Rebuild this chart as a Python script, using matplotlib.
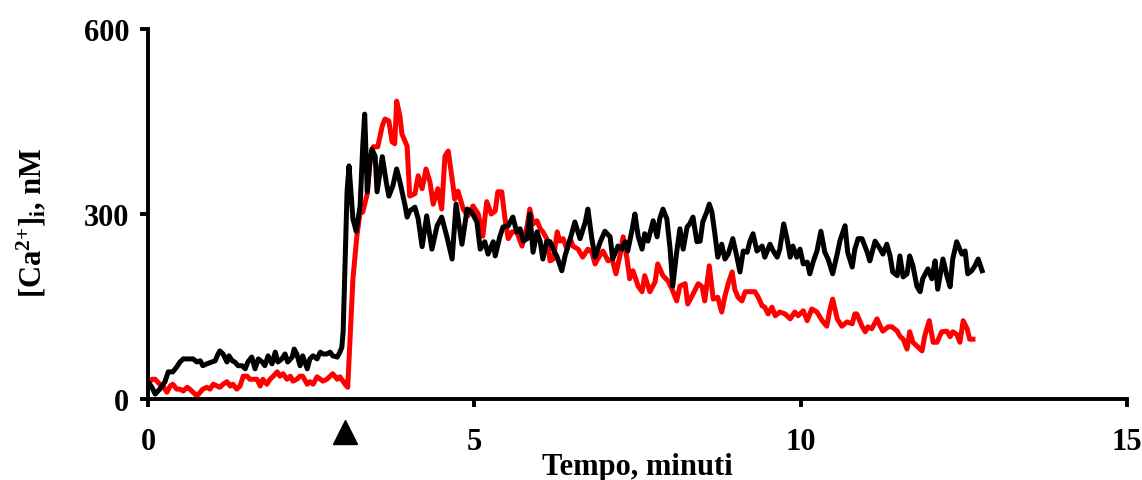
import matplotlib
matplotlib.use("Agg")
import matplotlib.pyplot as plt

# ---- data (time in minutes, [Ca2+]i in nM) ----
t_black = [0.00, 0.06, 0.11, 0.18, 0.26, 0.31, 0.38, 0.44, 0.49, 0.54, 0.61, 0.69, 0.75, 0.80, 0.84,
           0.90, 0.98, 1.03, 1.06, 1.10, 1.15, 1.21, 1.24, 1.29, 1.33, 1.38, 1.44, 1.49, 1.53, 1.59,
           1.64, 1.69, 1.75, 1.79, 1.84, 1.90, 1.95, 1.99, 2.05, 2.10, 2.14, 2.21, 2.24, 2.28, 2.33,
           2.37, 2.44, 2.48, 2.53, 2.59, 2.64, 2.68, 2.74, 2.79, 2.83, 2.90, 2.94, 2.97, 2.99, 3.05,
           3.08, 3.14, 3.19, 3.25, 3.29, 3.32, 3.36, 3.40, 3.43, 3.48, 3.51, 3.59, 3.65, 3.69, 3.75,
           3.81, 3.86, 3.94, 3.97, 4.01, 4.09, 4.14, 4.20, 4.27, 4.35, 4.43, 4.50, 4.58, 4.66, 4.72,
           4.81, 4.89, 4.96, 5.04, 5.09, 5.16, 5.21, 5.29, 5.32, 5.39, 5.44, 5.52, 5.59, 5.65, 5.70,
           5.75, 5.81, 5.85, 5.90, 5.96, 6.01, 6.05, 6.11, 6.16, 6.21, 6.27, 6.34, 6.39, 6.47, 6.54,
           6.62, 6.70, 6.74, 6.80, 6.85, 6.93, 7.00, 7.08, 7.12, 7.20, 7.26, 7.31, 7.35, 7.42, 7.46,
           7.51, 7.57, 7.61, 7.66, 7.74, 7.80, 7.84, 7.89, 7.95, 8.00, 8.04, 8.10, 8.15, 8.20, 8.26,
           8.30, 8.35, 8.41, 8.46, 8.50, 8.56, 8.60, 8.64, 8.69, 8.73, 8.79, 8.84, 8.89, 8.96, 9.02,
           9.07, 9.12, 9.18, 9.22, 9.27, 9.33, 9.41, 9.45, 9.53, 9.58, 9.64, 9.68, 9.74, 9.79, 9.84,
           9.88, 9.94, 9.99, 10.04, 10.10, 10.14, 10.19, 10.25, 10.31, 10.37, 10.42, 10.49, 10.56,
           10.60, 10.68, 10.72, 10.79, 10.83, 10.88, 10.94, 11.02, 11.06, 11.14, 11.22, 11.26, 11.32,
           11.37, 11.41, 11.48, 11.52, 11.57, 11.63, 11.67, 11.72, 11.78, 11.83, 11.87, 11.95, 12.01,
           12.06, 12.10, 12.18, 12.24, 12.29, 12.33, 12.39, 12.47, 12.52, 12.56, 12.62, 12.67, 12.72,
           12.78]
ca_black = [28, 19, 8, 16, 28, 44, 44, 52, 60, 65, 65, 65, 60, 62, 54,
            57, 60, 62, 70, 78, 73, 60, 70, 62, 60, 54, 54, 49, 60, 68,
            49, 65, 60, 54, 70, 57, 76, 60, 65, 73, 60, 68, 81, 73, 54,
            70, 49, 65, 70, 65, 76, 73, 73, 76, 70, 68, 76, 84, 109, 336,
            378, 292, 272, 313, 410, 462, 336, 384, 405, 394, 336, 393, 352, 329, 345,
            373, 352, 313, 295, 305, 311, 292, 247, 297, 243, 281, 295, 263, 227, 316,
            251, 308, 303, 287, 243, 255, 235, 255, 232, 263, 279, 281, 295, 271, 276,
            256, 260, 300, 238, 271, 255, 227, 256, 255, 243, 230, 208, 232, 260, 287,
            260, 287, 308, 260, 230, 255, 272, 263, 227, 248, 243, 255, 240, 276, 300,
            264, 243, 268, 256, 289, 263, 292, 308, 292, 243, 183, 238, 276, 243, 279,
            284, 295, 255, 256, 287, 303, 316, 303, 264, 230, 251, 227, 235, 260, 232,
            206, 240, 238, 255, 268, 240, 248, 230, 251, 240, 230, 243, 284, 260, 230,
            248, 230, 243, 219, 222, 203, 222, 240, 272, 238, 227, 203, 235,
            256, 281, 238, 214, 243, 260, 260, 238, 224, 256, 243, 235, 251,
            232, 206, 200, 232, 198, 203, 232, 216, 183, 174, 195, 211, 195,
            224, 178, 227, 200, 182, 227, 255, 235, 240, 203, 208, 216, 227,
            208]

t_red = [0.00, 0.06, 0.11, 0.18, 0.23, 0.29, 0.34, 0.38, 0.44, 0.49, 0.54, 0.60, 0.64, 0.69, 0.75,
         0.80, 0.84, 0.90, 0.95, 1.00, 1.06, 1.10, 1.15, 1.21, 1.26, 1.30, 1.36, 1.41, 1.46, 1.52,
         1.56, 1.61, 1.67, 1.72, 1.76, 1.82, 1.87, 1.92, 1.98, 2.02, 2.07, 2.13, 2.18, 2.22, 2.28,
         2.33, 2.37, 2.44, 2.48, 2.53, 2.59, 2.64, 2.68, 2.74, 2.79, 2.83, 2.90, 2.94, 3.02, 3.06,
         3.09, 3.14, 3.20, 3.25, 3.29, 3.36, 3.40, 3.45, 3.52, 3.59, 3.63, 3.69, 3.74, 3.78, 3.81,
         3.86, 3.89, 3.97, 4.01, 4.09, 4.14, 4.20, 4.26, 4.32, 4.37, 4.44, 4.50, 4.55, 4.60, 4.66,
         4.70, 4.75, 4.83, 4.90, 4.98, 5.06, 5.13, 5.19, 5.26, 5.32, 5.36, 5.42, 5.47, 5.52, 5.58,
         5.65, 5.73, 5.81, 5.85, 5.90, 5.96, 6.01, 6.05, 6.11, 6.16, 6.21, 6.27, 6.31, 6.36, 6.42,
         6.47, 6.51, 6.59, 6.66, 6.74, 6.80, 6.85, 6.89, 6.97, 7.05, 7.11, 7.17, 7.23, 7.28, 7.34,
         7.38, 7.43, 7.51, 7.57, 7.61, 7.69, 7.77, 7.81, 7.89, 7.97, 8.03, 8.10, 8.15, 8.23, 8.27,
         8.35, 8.43, 8.49, 8.53, 8.60, 8.66, 8.73, 8.79, 8.84, 8.89, 8.95, 8.99, 9.04, 9.10, 9.15,
         9.22, 9.30, 9.35, 9.41, 9.45, 9.50, 9.56, 9.61, 9.68, 9.76, 9.84, 9.91, 9.96, 10.04, 10.10,
         10.17, 10.25, 10.33, 10.40, 10.45, 10.49, 10.56, 10.63, 10.71, 10.79, 10.83, 10.86, 10.94,
         10.99, 11.03, 11.09, 11.17, 11.22, 11.26, 11.34, 11.40, 11.48, 11.52, 11.57, 11.63, 11.67,
         11.72, 11.80, 11.86, 11.90, 11.97, 12.03, 12.09, 12.16, 12.24, 12.29, 12.33, 12.39, 12.44,
         12.49, 12.55, 12.59, 12.64]
ca_red = [24, 32, 32, 24, 21, 11, 21, 24, 16, 16, 13, 19, 16, 11, 5,
          11, 16, 19, 16, 24, 21, 19, 24, 28, 21, 24, 16, 21, 37, 37,
          32, 32, 32, 21, 32, 24, 32, 37, 44, 37, 41, 32, 37, 29, 32,
          37, 37, 24, 28, 24, 36, 32, 29, 32, 37, 41, 32, 36, 24, 19,
          86, 195, 264, 303, 303, 333, 384, 409, 409, 443, 454, 451, 417, 414, 483,
          459, 430, 410, 329, 333, 362, 341, 373, 352, 316, 341, 308, 394, 402, 357,
          324, 337, 308, 297, 313, 300, 264, 320, 300, 305, 336, 336, 292, 260, 271,
          271, 248, 281, 308, 284, 289, 276, 271, 260, 224, 227, 271, 256, 260, 243,
          260, 248, 243, 230, 243, 238, 219, 227, 240, 224, 227, 203, 232, 263, 227,
          195, 208, 183, 174, 200, 174, 190, 219, 200, 191, 178, 159, 183, 187, 154,
          170, 187, 182, 159, 216, 162, 165, 141, 167, 187, 206, 178, 165, 159, 174,
          174, 174, 165, 151, 149, 138, 149, 135, 141, 138, 130, 141, 135, 143, 127,
          146, 141, 127, 118, 146, 162, 130, 118, 125, 122, 138, 138, 118,
          109, 117, 114, 130, 118, 110, 117, 117, 110, 102, 97, 81, 109,
          92, 84, 78, 102, 127, 92, 92, 109, 110, 101, 109, 105, 92,
          127, 114, 97, 97]

x_ticks = [0, 5, 10, 15]
y_ticks = [0, 300, 600]
stimulus_time = 3.02
x_label = "Tempo, minuti"
y_label = r"[Ca$^{2{+}}$]$_{\mathrm{i}}$, nM"

# ---- style ----
plt.rcParams['font.family'] = ['Liberation Serif', 'DejaVu Serif']
plt.rcParams['font.weight'] = 'bold'
plt.rcParams['mathtext.fontset'] = 'custom'
plt.rcParams['mathtext.rm'] = 'Liberation Serif:bold'
plt.rcParams['mathtext.it'] = 'Liberation Serif:bold'
plt.rcParams['mathtext.bf'] = 'Liberation Serif:bold'
plt.rcParams['mathtext.default'] = 'rm'

FS = 22
fig = plt.figure(figsize=(11.42, 4.81), dpi=100)
ax = fig.add_axes([148/1142, 1-400/481, (1127-148)/1142, 370/481])

ax.plot(t_red, ca_red, color='#ff0000', lw=3.6, solid_joinstyle='round', zorder=2)
ax.plot(t_black, ca_black, color='black', lw=3.6, solid_joinstyle='round', zorder=3)

ax.set_xlim(0, 15)
ax.set_ylim(0, 600)
ax.set_xticks(x_ticks)
ax.set_yticks(y_ticks)
for s in ['top', 'right']:
    ax.spines[s].set_visible(False)
for s in ['left', 'bottom']:
    ax.spines[s].set_linewidth(2.8)
    ax.spines[s].set_color('black')
ax.tick_params(axis='both', direction='out', length=5.5, width=2.8, labelsize=FS)
ax.tick_params(axis='x', pad=15)
ax.tick_params(axis='y', pad=8)
for lab in ax.get_xticklabels() + ax.get_yticklabels():
    lab.set_fontweight('bold')

ax.set_xlabel(x_label, fontsize=FS, fontweight='bold')
ax.set_ylabel(y_label, fontsize=FS, fontweight='bold')
ax.xaxis.set_label_coords(0.5, -0.142)
ax.yaxis.set_label_coords(-0.102, 0.48)

# stimulus marker below the axis
ax.plot([stimulus_time], [-54], marker='^', color='black', markersize=17,
        clip_on=False, zorder=5)

fig.savefig("out.png", dpi=100)
